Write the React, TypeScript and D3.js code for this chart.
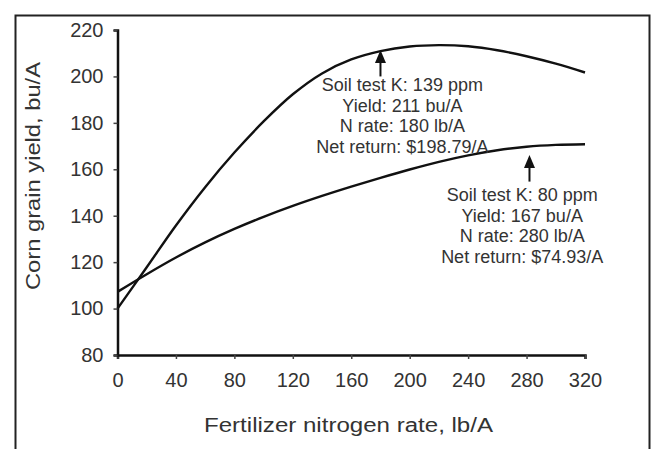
import React, { useEffect, useRef } from 'react'
import * as d3 from 'd3'

// N rate (lb/A) and corn yield (bu/A)
const nRates = [0, 20, 40, 60, 80, 100, 120, 140, 160, 180, 200, 220, 240, 260, 280, 300, 320]
const yieldK139 = [100, 117.8, 135.8, 152.3, 167.2, 180.6, 192.3, 201.3, 207.3, 210.9, 212.9, 213.5, 213, 211.3, 208.7, 205.5, 201.7]
const yieldK80 = [107.2, 114.8, 122, 128.5, 134.3, 139.5, 144.2, 148.5, 152.5, 156.3, 159.9, 163.2, 166, 168.2, 169.7, 170.5, 170.8]

const xTicks = [0, 40, 80, 120, 160, 200, 240, 280, 320]
const yTicks = [80, 100, 120, 140, 160, 180, 200, 220]

// arrows: x, from yield, to yield (tip)
const arrows = [
  { x: 180, y0: 200, y1: 211.4 },
  { x: 282, y0: 154.7, y1: 166.2 },
]

const notes = [
  { x: 195, lines: ['Soil test K: 139 ppm', 'Yield: 211 bu/A', 'N rate: 180 lb/A', 'Net return: $198.79/A'], top: 91 },
  { x: 277, lines: ['Soil test K: 80 ppm', 'Yield: 167 bu/A', 'N rate: 280 lb/A', 'Net return: $74.93/A'], top: 201 },
]

const xTitle = 'Fertilizer nitrogen rate, lb/A'
const yTitle = 'Corn grain yield, bu/A'

export default function App() {
  const ref = useRef<SVGSVGElement>(null)

  useEffect(() => {
    const svg = d3.select(ref.current)
    svg.selectAll('*').remove()
    const font = 'Liberation Sans, Arial, sans-serif'
    const ink = '#111'
    const txt = '#333'

    const x = d3.scaleLinear().domain([0, 320]).range([117.5, 585])
    const y = d3.scaleLinear().domain([80, 220]).range([355, 30])

    // outer frame
    svg.append('rect')
      .attr('x', 15.5).attr('y', 15.5)
      .attr('width', 634).attr('height', 460)
      .attr('fill', 'none').attr('stroke', '#222').attr('stroke-width', 2)

    const line = d3.line<number>()
      .x((d, i) => x(nRates[i]))
      .y(d => y(d))
      .curve(d3.curveCatmullRom)

    ;[yieldK139, yieldK80].forEach(s => {
      svg.append('path')
        .attr('d', line(s))
        .attr('fill', 'none')
        .attr('stroke', ink)
        .attr('stroke-width', 2.4)
    })

    // axes
    const xAxis = svg.append('g').attr('transform', `translate(0,${y(80)})`)
      .call(d3.axisBottom(x).tickValues(xTicks).tickSize(4).tickSizeOuter(4).tickPadding(10))
    const yAxis = svg.append('g').attr('transform', `translate(${x(0)},0)`)
      .call(d3.axisLeft(y).tickValues(yTicks).tickSize(4).tickSizeOuter(4).tickPadding(10))
    ;[xAxis, yAxis].forEach(g => {
      g.select('.domain').attr('stroke', ink).attr('stroke-width', 2.5)
      g.selectAll('.tick line').attr('stroke', '#444').attr('stroke-width', 1.5)
      g.selectAll('.tick text')
        .attr('font-family', font).attr('font-size', 20).attr('fill', txt)
    })
    xAxis.selectAll('.tick text').attr('dy', '0.9em')

    // axis titles (stretched in the source image)
    svg.append('text')
      .attr('x', 204).attr('y', 432)
      .attr('textLength', 289).attr('lengthAdjust', 'spacingAndGlyphs')
      .attr('font-family', font).attr('font-size', 20).attr('fill', txt)
      .text(xTitle)
    svg.append('text')
      .attr('transform', 'translate(40,290) rotate(-90)')
      .attr('textLength', 228).attr('lengthAdjust', 'spacingAndGlyphs')
      .attr('font-family', font).attr('font-size', 20).attr('fill', txt)
      .text(yTitle)

    // arrows
    arrows.forEach(a => {
      const ax = x(a.x), yb = y(a.y0), yt = y(a.y1)
      svg.append('line')
        .attr('x1', ax).attr('x2', ax).attr('y1', yb).attr('y2', yt + 8)
        .attr('stroke', ink).attr('stroke-width', 2)
      svg.append('path')
        .attr('d', `M${ax},${yt} L${ax - 5.5},${yt + 13} L${ax + 5.5},${yt + 13} Z`)
        .attr('fill', ink)
    })

    // annotations
    notes.forEach(n => {
      const t = svg.append('text')
        .attr('font-family', font).attr('font-size', 18).attr('fill', txt)
        .attr('text-anchor', 'middle')
      n.lines.forEach((s, i) => {
        t.append('tspan').attr('x', x(n.x)).attr('y', n.top + i * 20.6).text(s)
      })
    })
  }, [])

  return (
    <svg ref={ref} width={652} height={449}
      style={{ position: 'absolute', left: 0, top: 0, background: '#fff' }} />
  )
}
